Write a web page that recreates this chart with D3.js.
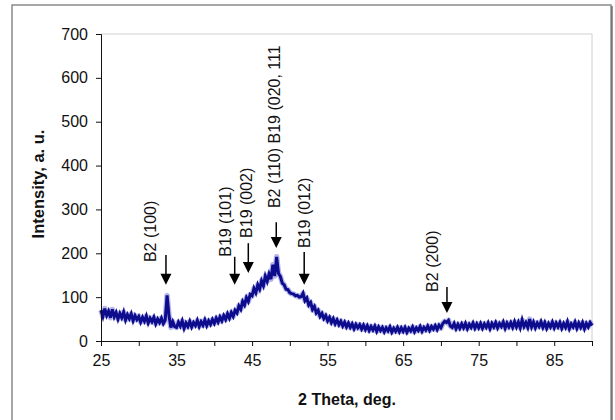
<!DOCTYPE html>
<html><head><meta charset="utf-8">
<script src="https://cdn.jsdelivr.net/npm/d3@7"></script>
<style>
html,body{margin:0;padding:0;background:#fff;}
svg{display:block;font-family:"Liberation Sans",Arial,sans-serif;}
</style></head>
<body><svg id="chart" width="615" height="420"></svg>
<script>
// ---- data ----
const thetaStart = 25, thetaStep = 0.25;
const intensity = [
 70,56,74,58,68,53,72,55,65,50,63,53,66,48,60,51,62,46,58,49,
 56,43,54,45,57,41,52,44,54,39,50,42,52,40,48,104,58,31,44,33,
 31,43,34,46,29,41,33,45,32,42,35,47,33,44,36,48,35,46,38,49,
 40,52,43,55,46,58,49,62,52,65,56,70,64,80,72,90,82,99,90,106,
 103,120,110,128,118,137,126,148,136,153,141,174,148,192,154,147,132,128,118,117,
 110,108,107,103,104,100,101,109,92,98,82,88,72,79,64,70,56,63,51,58,
 46,54,42,51,39,48,37,45,34,43,32,41,31,39,28,38,30,37,27,36,
 26,35,24,33,25,34,22,32,24,31,21,30,23,32,20,29,22,31,21,30,
 22,31,20,29,23,32,21,30,24,33,22,31,25,34,24,33,27,35,26,36,
 30,40,45,42,47,34,31,40,28,38,29,39,30,40,28,38,31,41,29,39,
 30,40,29,39,31,41,28,40,32,42,30,40,33,43,29,41,32,42,31,44,
 32,43,30,48,33,42,31,50,32,43,30,41,33,44,31,42,29,40,32,43,
 30,41,32,42,29,40,31,44,28,39,32,43,29,41,31,42,28,40,32,42,
 35
];
const xTicks = [25,30,35,40,45,50,55,60,65,70,75,80,85,90];
const xTickLabels = [25,35,45,55,65,75,85];
const yTicks = [0,100,200,300,400,500,600,700];
// annotation labels: text, arrow position (2θ), arrow top / bottom (intensity), text centre (2θ), text bottom (intensity)
const annText   = ["B2 (100)","B19 (101)","B19 (002)","B2 (110) B19 (020, 111","B19 (012)","B2 (200)"];
const annArrowX = [33.6, 42.7, 44.5, 48.2, 51.9, 70.8];
const annArrowTop = [196, 192, 223, 271, 203, 123];
const annArrowBot = [128, 128, 155, 212, 128, 64];
const annTextX  = [31.6, 41.5, 44.3, 48.0, 51.9, 68.9];
const annTextBot = [180, 192, 235, 303, 212, 112];

const data = intensity.map((v,i)=>({x: thetaStart + i*thetaStep, y: v}));

// ---- drawing ----
const svg = d3.select("#chart");
const x = d3.scaleLinear().domain([25,90]).range([101,592]);
const y = d3.scaleLinear().domain([0,700]).range([341,34]);

// outer frame
svg.append("path").attr("d","M12,420 V5 H611 V420").attr("fill","none").attr("stroke","#8a8a8a").attr("stroke-width",1.5);
svg.append("line").attr("x1",612).attr("x2",612).attr("y1",6).attr("y2",420).attr("stroke","#555").attr("stroke-width",1.2);

// plot frame (top/right light)
svg.append("path").attr("d",`M${x(25)},${y(700)} H${x(90)} V${y(0)}`).attr("fill","none").attr("stroke","#d0d0d0").attr("stroke-width",1);

// line
const line = d3.line().x(d=>x(d.x)).y(d=>y(d.y));
svg.append("path").datum(data).attr("d",line).attr("fill","none").attr("stroke","#6b6bd8").attr("stroke-width",5.5).attr("stroke-opacity",0.5).attr("stroke-linejoin","round");
svg.append("path").datum(data).attr("d",line).attr("fill","none").attr("stroke","#0c0c8c").attr("stroke-width",3).attr("stroke-linejoin","miter");

// axes
const xAxis = d3.axisBottom(x).tickValues(xTicks).tickSizeOuter(0).tickSize(5)
  .tickFormat(d=> xTickLabels.includes(d) ? d : "");
const gx = svg.append("g").attr("transform",`translate(0,${y(0)})`).call(xAxis);
gx.selectAll("text").attr("font-size",16).attr("fill","#111").attr("dy","1.05em").attr("font-family","Liberation Sans, Arial, sans-serif");
gx.select(".domain").attr("stroke","#111");
gx.selectAll(".tick line").attr("stroke","#111");

const yAxis = d3.axisLeft(y).tickValues(yTicks).tickSizeOuter(0).tickSize(5).tickPadding(8);
const gy = svg.append("g").attr("transform",`translate(${x(25)},0)`).call(yAxis);
gy.selectAll("text").attr("font-size",16).attr("fill","#111").attr("font-family","Liberation Sans, Arial, sans-serif");
gy.select(".domain").attr("stroke","#111");
gy.selectAll(".tick line").attr("stroke","#111");

// axis titles
svg.append("text").attr("x",347).attr("y",405).attr("text-anchor","middle")
  .attr("font-size",16).attr("font-weight","bold").attr("fill","#111").text("2 Theta, deg.");
svg.append("text").attr("transform","translate(44,184) rotate(-90)").attr("text-anchor","middle")
  .attr("font-size",16.5).attr("font-weight","bold").attr("fill","#111").text("Intensity, a. u.");

// annotations
const ann = annText.map((t,i)=>({t, ax: annArrowX[i], at: annArrowTop[i], ab: annArrowBot[i], tx: annTextX[i], tb: annTextBot[i]}));
const ga = svg.append("g");
ga.selectAll("text").data(ann).join("text")
  .attr("transform", d=>`translate(${x(d.tx)+5.5},${y(d.tb)}) rotate(-90)`)
  .attr("font-size",16).attr("fill","#111").text(d=>d.t);
ga.selectAll("line").data(ann).join("line")
  .attr("x1",d=>x(d.ax)).attr("x2",d=>x(d.ax))
  .attr("y1",d=>y(d.at)).attr("y2",d=>y(d.ab)-9)
  .attr("stroke","#000").attr("stroke-width",1.5);
ga.selectAll("path").data(ann).join("path")
  .attr("d",d=>{const px=x(d.ax), py=y(d.ab); return `M${px-5.5},${py-11} L${px+5.5},${py-11} L${px},${py} Z`;})
  .attr("fill","#000");
</script></body></html>
